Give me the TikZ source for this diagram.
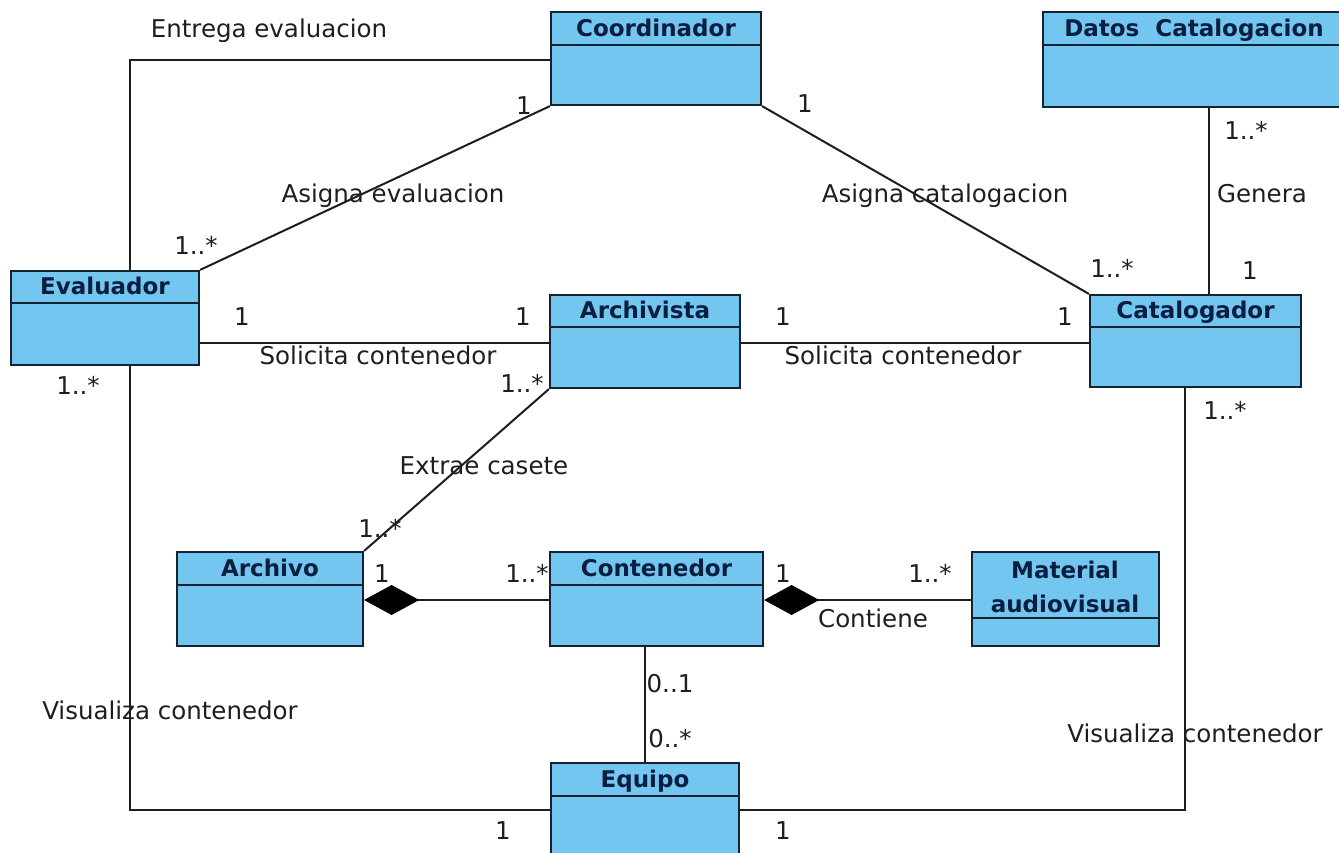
\documentclass[tikz,border=0pt]{standalone}
\usepackage{fontspec}
\setmainfont{DejaVu Sans}
\usetikzlibrary{arrows.meta,fit}
\definecolor{boxfill}{RGB}{115,198,240}
\definecolor{boxline}{RGB}{20,35,50}
\definecolor{titlecol}{RGB}{10,30,64}
\definecolor{linecol}{RGB}{30,30,30}
\definecolor{labelcol}{RGB}{30,30,30}

% class box: name, x1, y1, x2, y2, separator y, title
\newcommand\umlclass[7]{%
  \node[cls, fit={(#2,#3) (#4,#5)}] (#1) {};
  \draw[sep] (#2,#6) -- (#4,#6);
  \node[ttl] at ({(#2+#4)/2},{(#3+#6)/2}) {#7};
}

\begin{document}
\begin{tikzpicture}[x=1pt,y=-1pt,
  cls/.style={draw=boxline, fill=boxfill, line width=2.2pt, inner sep=0pt, rectangle},
  sep/.style={draw=boxline, line width=2pt},
  ttl/.style={font=\fontsize{23}{25}\selectfont\bfseries, text=titlecol, inner sep=0pt, anchor=mid, yshift=-5pt},
  assoc/.style={draw=linecol, line width=2pt},
  comp/.style={assoc, {Diamond[length=55pt,width=30pt,color=black]}-},
  lbl/.style={font=\fontsize{24.5}{27}\selectfont, text=labelcol, inner sep=0pt, anchor=mid, yshift=-7pt}
]
\path[use as bounding box, fill=white] (0,0) rectangle (1339,852);

% classes
\umlclass{coord}{551}{12}{761}{105}{45}{Coordinador}
\umlclass{datos}{1043}{12}{1345}{107}{45}{Datos\ \ Catalogacion}
\umlclass{eval}{11}{271}{199}{365}{303}{Evaluador}
\umlclass{arch}{550}{295}{740}{388}{327}{Archivista}
\umlclass{cat}{1090}{295}{1301}{387}{327}{Catalogador}
\umlclass{archivo}{177}{552}{363}{646}{585}{Archivo}
\umlclass{cont}{550}{552}{763}{646}{585}{Contenedor}
\umlclass{mat}{972}{552}{1159}{646}{618}{}
\node[ttl, anchor=center, yshift=0pt, align=center, font=\fontsize{23}{34}\selectfont\bfseries] (mattitle) at (1065,582) {Material\\audiovisual};
\umlclass{equipo}{551}{763}{739}{875}{796}{Equipo}

% associations
\draw[assoc] (coord.west |- 0,60) -| (eval.north -| 130,0);
\draw[assoc] (coord.south west) -- (eval.north east);
\draw[assoc] (coord.south east) -- (cat.north west);
\draw[assoc] (datos.south -| 1209,0) -- (cat.north -| 1209,0);
\draw[assoc] (eval.east |- 0,343) -- (arch.west |- 0,343);
\draw[assoc] (arch.east |- 0,343) -- (cat.west |- 0,343);
\draw[assoc] (arch.south west) -- (archivo.north east);
\draw[comp] (archivo.east |- 0,600) -- (cont.west |- 0,600);
\draw[comp] (cont.east |- 0,600) -- (mat.west |- 0,600);
\draw[assoc] (cont.south -| equipo.north) -- (equipo.north);
\draw[assoc] (eval.south -| 130,0) |- (equipo.west |- 0,810);
\draw[assoc] (cat.south -| 1185,0) |- (equipo.east |- 0,810);

% association names and multiplicities
\node[lbl] (l1) at (269,28) {Entrega evaluacion};
\node[lbl] (l2) at (524,105) {1};
\node[lbl] (l3) at (393,193) {Asigna evaluacion};
\node[lbl] (l4) at (196,245) {1..*};
\node[lbl] (l5) at (805,103) {1};
\node[lbl] (l6) at (945,193) {Asigna catalogacion};
\node[lbl] (l7) at (1112,268) {1..*};
\node[lbl] (l8) at (1246,130) {1..*};
\node[lbl] (l9) at (1262,193) {Genera};
\node[lbl] (l10) at (1250,270) {1};
\node[lbl] (l11) at (242,316) {1};
\node[lbl] (l12) at (523,316) {1};
\node[lbl] (l13) at (378,355) {Solicita contenedor};
\node[lbl] (l14) at (783,316) {1};
\node[lbl] (l15) at (1065,316) {1};
\node[lbl] (l16) at (903,355) {Solicita contenedor};
\node[lbl] (l17) at (522,383) {1..*};
\node[lbl] (l18) at (484,465) {Extrae casete};
\node[lbl] (l19) at (380,528) {1..*};
\node[lbl] (l20) at (382,573) {1};
\node[lbl] (l21) at (527,573) {1..*};
\node[lbl] (l22) at (783,573) {1};
\node[lbl] (l23) at (930,573) {1..*};
\node[lbl] (l24) at (873,618) {Contiene};
\node[lbl] (l25) at (670,683) {0..1};
\node[lbl] (l26) at (670,738) {0..*};
\node[lbl] (l27) at (78,385) {1..*};
\node[lbl] (l28) at (170,710) {Visualiza contenedor};
\node[lbl] (l29) at (503,830) {1};
\node[lbl] (l30) at (1225,410) {1..*};
\node[lbl] (l31) at (1195,733) {Visualiza contenedor};
\node[lbl] (l32) at (783,830) {1};
\end{tikzpicture}
\end{document}
